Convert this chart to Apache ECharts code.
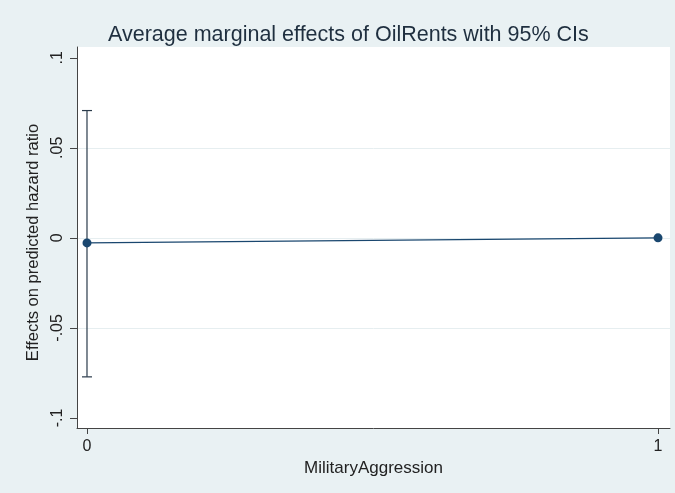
<!DOCTYPE html>
<html>
<head>
<meta charset="utf-8">
<script src="https://cdn.jsdelivr.net/npm/echarts@6/dist/echarts.min.js"></script>
<style>
  html, body { margin: 0; padding: 0; background: #e9f1f3; }
  #chart { width: 675px; height: 493px; }
</style>
</head>
<body>
<div id="chart"></div>
<script>
// data
const xTicks = [0, 1]
const yTicks = [-0.1, -0.05, 0, 0.05, 0.1]
const yTickLabels = ['-.1', '-.05', '0', '.05', '.1']
const gridValues = [-0.05, 0, 0.05]
const levels = [0, 1]
const effects = [-0.0028, 0]
const ciLow = [-0.0772, null]
const ciHigh = [0.0707, null]

const navy = '#1a476f'
const font = 'Liberation Sans, Arial, sans-serif'

const chart = echarts.init(document.getElementById('chart'))

const lineData = levels.map((x, i) => [x, effects[i]])
const ciData = levels
  .map((x, i) => [x, ciLow[i], ciHigh[i]])
  .filter(d => d[1] !== null)

chart.setOption({
  backgroundColor: '#e9f1f3',
  animation: false,
  title: {
    text: 'Average marginal effects of OilRents with 95% CIs',
    left: 103,
    top: 19,
    textStyle: { fontFamily: font, fontSize: 21.5, fontWeight: 'normal', color: '#1f2f3f' }
  },
  grid: {
    left: 77, right: 5, top: 47, bottom: 65,
    show: true, backgroundColor: '#ffffff', borderWidth: 0
  },
  xAxis: {
    type: 'value',
    min: -0.0175,
    max: 1.021,
    name: 'MilitaryAggression',
    nameLocation: 'middle',
    nameGap: 24,
    nameTextStyle: { fontFamily: font, fontSize: 17, color: '#222' },
    axisLine: { show: true, onZero: false, lineStyle: { color: '#444', width: 1 } },
    axisTick: { show: true, length: 6, customValues: xTicks, lineStyle: { color: '#444' } },
    axisLabel: { customValues: xTicks, margin: 11, fontFamily: font, fontSize: 16, color: '#222',
      formatter: v => String(v) },
    splitLine: { show: false }
  },
  yAxis: {
    type: 'value',
    min: -0.1056,
    max: 0.106,
    name: 'Effects on predicted hazard ratio',
    nameLocation: 'middle',
    nameGap: 34,
    nameRotate: 90,
    nameTextStyle: { fontFamily: font, fontSize: 16.5, color: '#222', padding: [0, 10, 0, 0] },
    axisLine: { show: true, onZero: false, lineStyle: { color: '#444', width: 1 } },
    axisTick: { show: true, length: 7, customValues: yTicks, lineStyle: { color: '#444' } },
    axisLabel: {
      customValues: yTicks, rotate: 90, margin: 11,
      fontFamily: font, fontSize: 16, color: '#222',
      formatter: v => {
        const i = yTicks.findIndex(t => Math.abs(t - v) < 1e-9)
        return i >= 0 ? yTickLabels[i] : ''
      }
    },
    splitLine: { show: false }
  },
  series: [
    {
      type: 'line',
      data: lineData,
      symbol: 'none',
      silent: true,
      lineStyle: { opacity: 0 },
      markLine: {
        silent: true,
        z: 0,
        symbol: 'none',
        label: { show: false },
        lineStyle: { color: '#e6eef0', width: 1, type: 'solid' },
        data: gridValues.map(v => ({ yAxis: v }))
      },
      z: 1
    },
    {
      type: 'custom',
      data: ciData,
      z: 3,
      renderItem: (params, api) => {
        const lo = api.coord([api.value(0), api.value(1)])
        const hi = api.coord([api.value(0), api.value(2)])
        const w = 5
        const style = { stroke: '#2a3a4a', lineWidth: 1.2 }
        return {
          type: 'group',
          children: [
            { type: 'line', shape: { x1: lo[0], y1: lo[1], x2: hi[0], y2: hi[1] }, style },
            { type: 'line', shape: { x1: lo[0] - w, y1: lo[1], x2: lo[0] + w, y2: lo[1] }, style },
            { type: 'line', shape: { x1: hi[0] - w, y1: hi[1], x2: hi[0] + w, y2: hi[1] }, style }
          ]
        }
      }
    },
    {
      type: 'line',
      data: lineData,
      symbol: 'circle',
      symbolSize: 9,
      z: 4,
      lineStyle: { color: navy, width: 1.3 },
      itemStyle: { color: navy }
    }
  ]
})
</script>
</body>
</html>
